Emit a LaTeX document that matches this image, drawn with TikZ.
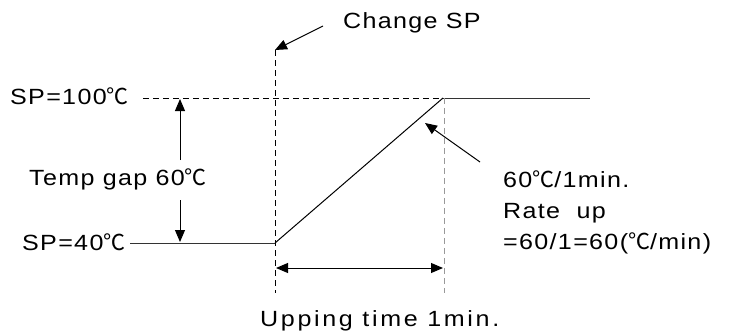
\documentclass[tikz,border=0pt]{standalone}
\usepackage{fontspec}
\setmainfont[LetterSpace=6,FakeStretch=1.14]{Liberation Sans}
\newfontfamily\cjk{Noto Sans CJK KR}
\usetikzlibrary{arrows.meta}
\newcommand\dgc{{\cjk ℃}}
\tikzset{
  lbl/.style={inner sep=0pt, anchor=base west, font=\fontsize{22}{24}\selectfont},
  ln/.style={line width=1pt, draw=black!80},
  dsh/.style={line width=1pt, dash pattern=on 6pt off 4pt},
  arr/.style={line width=1pt, -{Triangle[length=12pt,width=10pt]}},
  darr/.style={line width=1pt, {Triangle[length=12pt,width=10pt]}-{Triangle[length=12pt,width=10pt]}}
}
\begin{document}
\begin{tikzpicture}[x=1pt,y=-1pt]
\useasboundingbox (0,0) rectangle (736,332);
% labels
\node[lbl] (sp100) at (10,104) {SP=100\dgc};
\node[lbl] (sp40) at (22,250) {SP=40\dgc};
\node[lbl] (gap) at (29,185) {Temp gap 60\dgc};
\node[lbl] (chg) at (343,28) {Change SP};
\node[lbl] (r1) at (503,187) {60\dgc/1min.};
\node[lbl] (r2) at (503,218) {Rate~~up};
\node[lbl] (r3) at (503,249) {=60/1=60(\dgc/min)};
\node[lbl] (upt) at (260,326) {\addfontfeatures{LetterSpace=12}Upping time 1min.};
% coordinates
\coordinate (a) at (143,98);
\coordinate (b) at (443,98);
\coordinate (c) at (590,98);
\coordinate (d) at (130,243);
\coordinate (e) at (275,243);
\coordinate (vt) at (275,50);
\coordinate (vb) at (275,293);
\coordinate (gt) at (444,98);
\coordinate (gb) at (444,293);
\coordinate (ua) at (180,160);
\coordinate (ut) at (180,99);
\coordinate (da) at (180,200);
\coordinate (dt) at (180,242);
\coordinate (hl) at (276,268);
\coordinate (hr) at (443,268);
\coordinate (cs) at (323,26);
\coordinate (rs) at (480,162);
\coordinate (rt) at (425,123);
% lines
\draw[dsh] (a) -- (b);
\draw[ln] (b) -- (c);
\draw[ln] (d) -- (e);
\draw[ln, draw=black] (e) -- (b);
\draw[dsh] (vt) -- (vb);
\draw[dsh, draw=black!40] (gt) -- (gb);
% arrows
\draw[arr] (ua) -- (ut);
\draw[arr] (da) -- (dt);
\draw[darr] (hl) -- (hr);
\draw[arr] (cs) -- (vt);
\draw[arr] (rs) -- (rt);
\end{tikzpicture}
\end{document}
